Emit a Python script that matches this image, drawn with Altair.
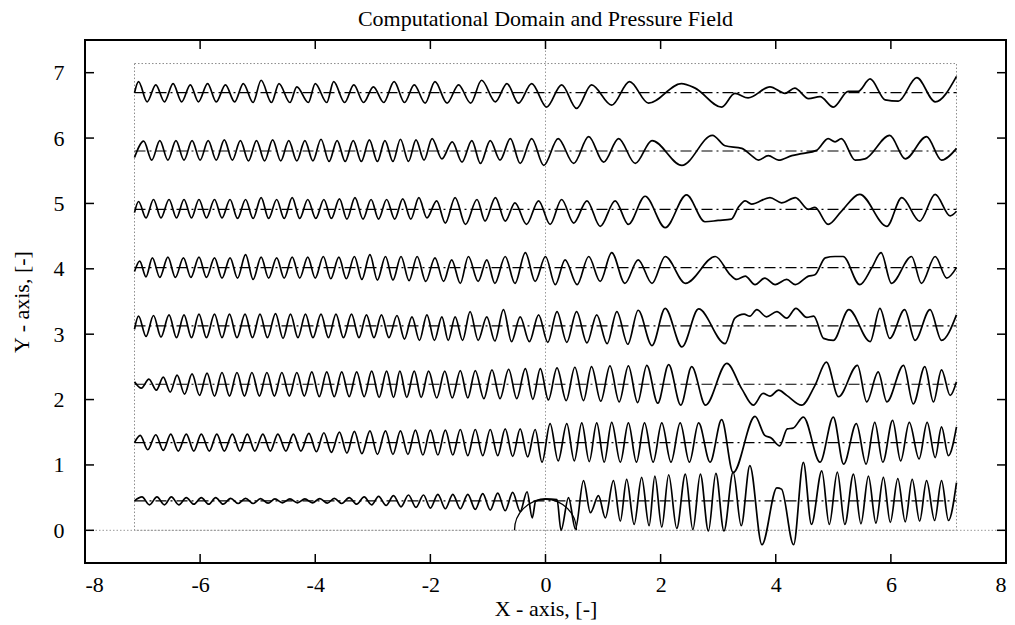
import altair as alt
import pandas as pd

# ---------------- data ----------------
TITLE = "Computational Domain and Pressure Field"
X_TITLE = "X - axis, [-]"
Y_TITLE = "Y - axis, [-]"
X_DOMAIN = [-8, 8]
Y_DOMAIN = [-0.5, 7.5]
XTICKS = [-8, -6, -4, -2, 0, 2, 4, 6, 8]
YTICKS = [0, 1, 2, 3, 4, 5, 6, 7]

# computational domain box and cylinder
DOMAIN_X = [-7.14, 7.14]
DOMAIN_Y = [0.0, 7.14]
CYL_CENTER = [0.0, 0.0]

# centre level of each pressure trace (dash-dot reference lines)
LEVELS = [0.45, 1.342, 2.234, 3.126, 4.018, 4.91, 5.802, 6.694]

# extrema of each trace: x position and offset from its level
X0 = [-7.14,
      -7.01, -6.88, -6.75, -6.62, -6.50, -6.37, -6.24, -6.11, -5.98, -5.85, -5.73, -5.60, -5.47, -5.34,
      -5.21, -5.08, -4.95, -4.82, -4.70, -4.57, -4.44, -4.31, -4.18, -4.05, -3.92, -3.79, -3.67, -3.54,
      -3.41, -3.28, -3.15, -3.02, -2.90, -2.77, -2.64, -2.51, -2.38, -2.25,
      -2.12, -2.00, -1.87, -1.74, -1.61, -1.48, -1.35, -1.22, -1.09, -0.96, -0.83, -0.70, -0.57, -0.44,
      -0.32, -0.23, -0.17, 0.00, 0.20, 0.27, 0.40, 0.52, 0.66, 0.78, 0.92, 1.04, 1.18, 1.30, 1.41, 1.54,
      1.67, 1.80, 1.90, 2.02, 2.14, 2.28, 2.43, 2.56, 2.69, 2.83, 2.96, 3.10, 3.26, 3.40, 3.55, 3.76,
      4.02, 4.10, 4.31, 4.48, 4.62, 4.80, 4.93, 5.07, 5.20, 5.35, 5.48, 5.61, 5.74, 5.87, 5.99, 6.12,
      6.25, 6.37, 6.50, 6.62, 6.76, 6.88, 7.00, 7.14]
D0 = [0.00,
      0.06, -0.06, 0.06, -0.06, 0.06, -0.06, 0.05, -0.05, 0.05, -0.05, 0.05, -0.05, 0.04, -0.04,
      0.04, -0.04, 0.035, -0.035, 0.03, -0.03, 0.03, -0.03, 0.03, -0.03, 0.035, -0.035, 0.04, -0.04,
      0.05, -0.05, 0.06, -0.06, 0.07, -0.07, 0.08, -0.09, 0.09, -0.10,
      0.09, -0.11, 0.10, -0.12, 0.10, -0.12, 0.10, -0.13, 0.11, -0.14, 0.12, -0.15, 0.13, -0.16,
      0.14, -0.26, 0.00, 0.03, 0.02, -0.45, 0.05, -0.43, 0.31, -0.18, 0.08, -0.26, 0.31, -0.31, 0.33, -0.36,
      0.36, -0.38, 0.38, -0.40, 0.40, -0.42, 0.41, -0.44, 0.41, -0.46, 0.42, -0.46, 0.44, -0.38, 0.54, -0.67,
      0.20, 0.18, -0.67, 0.59, -0.36, 0.46, -0.36, 0.44, -0.36, 0.41, -0.35, 0.38, -0.34, 0.36, -0.33, 0.34,
      -0.32, 0.33, -0.31, 0.31, -0.30, 0.31, -0.30, 0.28]

X1 = [-7.14,
      -7.04, -6.91, -6.77, -6.64, -6.51, -6.38, -6.24, -6.11, -5.98, -5.84, -5.71, -5.58, -5.44, -5.31,
      -5.18, -5.05, -4.91, -4.78, -4.65, -4.51, -4.38, -4.25, -4.11, -3.98, -3.85, -3.72, -3.58, -3.45,
      -3.32, -3.19, -3.05, -2.92, -2.78, -2.65, -2.52, -2.39, -2.26, -2.13,
      -2.00, -1.87, -1.74, -1.61, -1.48, -1.35, -1.22, -1.09, -0.96, -0.83, -0.70, -0.57, -0.44, -0.31,
      -0.18, -0.06, 0.08, 0.22, 0.37, 0.50, 0.63, 0.76, 0.89, 1.02, 1.15, 1.30, 1.44, 1.58, 1.72, 1.87,
      2.02, 2.18, 2.34, 2.50, 2.66, 2.86, 3.06, 3.26, 3.64, 3.81, 3.92, 4.07, 4.20, 4.30, 4.48, 4.77,
      5.00, 5.18, 5.40, 5.57, 5.72, 5.86, 6.03, 6.17, 6.32, 6.49, 6.63, 6.77, 6.88, 7.00, 7.14]
D1 = [0.00,
      0.11, -0.11, 0.12, -0.12, 0.13, -0.13, 0.13, -0.13, 0.13, -0.13, 0.13, -0.13, 0.13, -0.13,
      0.13, -0.13, 0.13, -0.13, 0.13, -0.13, 0.13, -0.13, 0.14, -0.14, 0.15, -0.15, 0.16, -0.16,
      0.17, -0.17, 0.18, -0.18, 0.18, -0.18, 0.18, -0.18, 0.19, -0.19,
      0.19, -0.19, 0.19, -0.19, 0.20, -0.20, 0.20, -0.20, 0.20, -0.20, 0.21, -0.21, 0.21, -0.22,
      0.20, -0.30, 0.29, -0.28, 0.29, -0.28, 0.30, -0.29, 0.30, -0.30, 0.31, -0.30, 0.30, -0.30, 0.30, -0.30,
      0.30, -0.30, 0.30, -0.30, 0.30, -0.30, 0.35, -0.46, 0.40, 0.11, 0.07, -0.05, 0.21, 0.22, 0.39, -0.30,
      0.39, -0.33, 0.29, -0.33, 0.31, -0.30, 0.34, -0.28, 0.31, -0.25, 0.31, -0.23, 0.24, -0.20, 0.24]

X2 = [-7.14, -7.02, -6.89, -6.76, -6.64, -6.52, -6.40, -6.27, -6.14, -6.01, -5.88, -5.75, -5.62, -5.49,
      -5.36, -5.23, -5.10, -4.97, -4.84, -4.71, -4.58, -4.45, -4.32, -4.19, -4.06, -3.93, -3.80, -3.67,
      -3.54, -3.41, -3.28, -3.15, -3.02, -2.89, -2.76, -2.64, -2.53, -2.41, -2.28, -2.16, -2.03, -1.89,
      -1.75, -1.62, -1.48, -1.35, -1.22, -1.07, -0.93, -0.79, -0.64, -0.50, -0.35, -0.22, -0.09, 0.05,
      0.20, 0.36, 0.51, 0.66, 0.80, 0.96, 1.12, 1.28, 1.44, 1.60, 1.76, 1.95, 2.14, 2.35, 2.54, 2.78,
      3.15, 3.41, 3.61, 3.78, 3.90, 4.05, 4.19, 4.45, 4.68, 4.88, 5.09, 5.42, 5.58, 5.78, 5.93, 6.22,
      6.39, 6.59, 6.74, 6.88, 7.03, 7.14]
D2 = [0.04, -0.06, 0.08, -0.09, 0.11, -0.12, 0.14, -0.15, 0.16, -0.17, 0.17, -0.18, 0.18, -0.18,
      0.18, -0.18, 0.18, -0.18, 0.18, -0.18, 0.18, -0.18, 0.18, -0.18, 0.19, -0.19, 0.19, -0.19,
      0.19, -0.19, 0.19, -0.19, 0.20, -0.20, 0.20, -0.20, 0.20, -0.20, 0.20, -0.20, 0.20, -0.21,
      0.20, -0.21, 0.21, -0.21, 0.21, -0.22, 0.22, -0.22, 0.23, -0.22, 0.24, -0.23, 0.24, -0.24,
      0.25, -0.25, 0.26, -0.25, 0.27, -0.26, 0.28, -0.27, 0.28, -0.28, 0.29, -0.29, 0.30, -0.32, 0.27, -0.32,
      0.32, -0.07, -0.32, -0.14, -0.18, -0.09, -0.17, -0.32, -0.02, 0.34, -0.19, 0.29, -0.27, 0.19, -0.27, 0.29,
      -0.30, 0.27, -0.27, 0.22, -0.17, 0.04]

X3 = [-7.14, -7.07, -6.94, -6.81, -6.68, -6.54, -6.41, -6.28, -6.15, -6.02, -5.89, -5.75, -5.62, -5.49,
      -5.36, -5.22, -5.09, -4.96, -4.83, -4.69, -4.56, -4.43, -4.30, -4.17, -4.04, -3.90, -3.77, -3.64,
      -3.51, -3.37, -3.24, -3.11, -2.98, -2.85, -2.72, -2.58, -2.45, -2.32, -2.19, -2.06, -1.93, -1.80,
      -1.69, -1.57, -1.44, -1.31, -1.17, -1.02, -0.88, -0.73, -0.59, -0.44, -0.28, -0.12, 0.04, 0.20,
      0.37, 0.54, 0.72, 0.89, 1.07, 1.24, 1.43, 1.61, 1.85, 2.08, 2.37, 2.66, 3.12, 3.29, 3.45, 3.55,
      3.67, 3.84, 4.02, 4.19, 4.35, 4.54, 4.66, 4.83, 5.00, 5.27, 5.64, 5.81, 5.98, 6.24, 6.42, 6.68,
      6.88, 7.14]
D3 = [-0.05, 0.15, -0.16, 0.16, -0.17, 0.17, -0.18, 0.17, -0.18, 0.18, -0.18, 0.18, -0.18, 0.18,
      -0.18, 0.18, -0.18, 0.18, -0.18, 0.19, -0.19, 0.18, -0.18, 0.18, -0.18, 0.18, -0.18, 0.18,
      -0.18, 0.18, -0.18, 0.17, -0.18, 0.17, -0.18, 0.16, -0.20, 0.14, -0.22, 0.17, -0.22, 0.14,
      -0.22, 0.14, -0.22, 0.22, -0.22, 0.14, -0.23, 0.25, -0.24, 0.14, -0.24, 0.17, -0.25, 0.22,
      -0.25, 0.22, -0.26, 0.17, -0.27, 0.22, -0.28, 0.24, -0.30, 0.27, -0.32, 0.26, -0.27, 0.12, 0.18, 0.15,
      0.25, 0.14, 0.22, 0.12, 0.27, 0.13, 0.15, -0.19, -0.22, 0.25, -0.24, 0.27, -0.19, 0.25, -0.22, 0.25,
      -0.22, 0.17]

X4 = [-7.14, -7.05, -6.94, -6.83, -6.70, -6.56, -6.43, -6.29, -6.16, -6.02, -5.89, -5.75, -5.62, -5.48,
      -5.35, -5.21, -5.08, -4.94, -4.81, -4.67, -4.54, -4.40, -4.27, -4.13, -4.00, -3.86, -3.73, -3.59,
      -3.46, -3.32, -3.19, -3.05, -2.92, -2.78, -2.65, -2.51, -2.37, -2.23, -2.08, -1.92, -1.77, -1.63,
      -1.48, -1.34, -1.17, -1.02, -0.88, -0.70, -0.53, -0.35, -0.18, 0.00, 0.17, 0.34, 0.55, 0.75,
      0.95, 1.15, 1.38, 1.61, 1.85, 2.08, 2.43, 2.95, 3.21, 3.32, 3.47, 3.64, 3.81, 3.99, 4.19, 4.34,
      4.57, 4.68, 4.86, 5.03, 5.17, 5.46, 5.67, 5.83, 6.01, 6.36, 6.53, 6.77, 6.97, 7.14]
D4 = [-0.06, 0.10, -0.14, 0.15, -0.15, 0.16, -0.15, 0.15, -0.15, 0.16, -0.15, 0.15, -0.16, 0.15,
      -0.16, 0.20, -0.18, 0.16, -0.16, 0.15, -0.16, 0.16, -0.16, 0.16, -0.16, 0.17, -0.17, 0.16,
      -0.17, 0.17, -0.18, 0.20, -0.19, 0.17, -0.19, 0.17, -0.20, 0.17, -0.21, 0.15, -0.21, 0.12,
      -0.24, 0.17, -0.21, 0.12, -0.24, 0.17, -0.24, 0.23, -0.21, 0.17, -0.26, 0.12, -0.26, 0.17,
      -0.21, 0.23, -0.24, 0.12, -0.24, 0.17, -0.24, 0.17, -0.11, -0.18, -0.13, -0.26, -0.16, -0.26, -0.18, -0.26,
      -0.13, -0.11, 0.15, 0.17, 0.17, -0.26, 0.00, 0.23, -0.24, 0.17, -0.24, 0.17, -0.16, 0.00]

X5 = [-7.14, -7.07, -6.94, -6.81, -6.68, -6.54, -6.41, -6.28, -6.15, -6.02, -5.89, -5.75, -5.62, -5.48,
      -5.35, -5.21, -5.08, -4.94, -4.81, -4.67, -4.54, -4.40, -4.27, -4.13, -3.99, -3.85, -3.72, -3.58,
      -3.45, -3.31, -3.17, -3.03, -2.90, -2.76, -2.62, -2.48, -2.34, -2.20, -2.06, -1.89, -1.74, -1.57,
      -1.39, -1.19, -1.05, -0.87, -0.70, -0.53, -0.33, -0.12, 0.08, 0.28, 0.49, 0.72, 0.95, 1.21,
      1.44, 1.73, 2.08, 2.45, 2.77, 3.00, 3.23, 3.35, 3.47, 3.58, 3.90, 4.10, 4.34, 4.57, 4.68, 4.91,
      5.14, 5.46, 5.93, 6.19, 6.50, 6.77, 7.03, 7.14]
D5 = [-0.05, 0.12, -0.13, 0.15, -0.13, 0.15, -0.13, 0.15, -0.13, 0.15, -0.13, 0.15, -0.13, 0.15,
      -0.14, 0.15, -0.14, 0.18, -0.14, 0.15, -0.14, 0.18, -0.14, 0.15, -0.14, 0.15, -0.14, 0.16,
      -0.15, 0.18, -0.15, 0.15, -0.15, 0.15, -0.15, 0.16, -0.15, 0.18, -0.13, 0.13, -0.21, 0.18,
      -0.23, 0.15, -0.18, 0.18, -0.18, 0.10, -0.23, 0.13, -0.23, 0.15, -0.21, 0.13, -0.26, 0.13,
      -0.23, 0.20, -0.28, 0.22, -0.19, -0.17, -0.15, 0.03, 0.13, 0.08, 0.18, 0.10, 0.18, 0.00, 0.03, -0.23,
      -0.03, 0.23, -0.26, 0.18, -0.18, 0.23, -0.10, -0.03]

X6 = [-7.14, -6.98, -6.84, -6.70, -6.56, -6.42, -6.28, -6.14, -6.00, -5.86, -5.72, -5.58, -5.44, -5.30,
      -5.16, -5.02, -4.88, -4.74, -4.60, -4.46, -4.32, -4.18, -4.04, -3.90, -3.76, -3.62, -3.48, -3.34,
      -3.20, -3.06, -2.92, -2.79, -2.65, -2.52, -2.38, -2.25, -2.11, -1.97, -1.80, -1.62, -1.45, -1.28,
      -1.13, -0.96, -0.79, -0.61, -0.44, -0.24, -0.03, 0.22, 0.49, 0.75, 1.01, 1.27, 1.56, 1.85,
      2.37, 2.90, 3.12, 3.41, 3.58, 3.70, 3.87, 4.05, 4.28, 4.45, 4.71, 4.91, 5.03, 5.14, 5.38, 5.55,
      5.98, 6.25, 6.62, 6.88, 7.14]
D6 = [-0.10, 0.15, -0.14, 0.16, -0.14, 0.16, -0.14, 0.16, -0.14, 0.16, -0.14, 0.17, -0.14, 0.16,
      -0.15, 0.16, -0.15, 0.17, -0.15, 0.16, -0.15, 0.16, -0.15, 0.18, -0.16, 0.16, -0.16, 0.16,
      -0.16, 0.17, -0.16, 0.16, -0.16, 0.18, -0.16, 0.17, -0.14, 0.19, -0.12, 0.14, -0.17, 0.16,
      -0.19, 0.16, -0.14, 0.19, -0.19, 0.19, -0.22, 0.19, -0.19, 0.22, -0.17, 0.19, -0.19, 0.16,
      -0.22, 0.24, 0.08, 0.04, -0.07, -0.14, -0.07, -0.14, -0.07, -0.04, 0.01, 0.19, 0.14, 0.19, -0.14, -0.12,
      0.24, -0.12, 0.22, -0.14, 0.04]

X7 = [-7.14, -7.07, -6.92, -6.77, -6.62, -6.47, -6.32, -6.17, -6.03, -5.87, -5.72, -5.56, -5.40, -5.25,
      -5.08, -4.94, -4.76, -4.63, -4.44, -4.32, -4.12, -4.00, -3.80, -3.68, -3.49, -3.33, -3.16, -2.99,
      -2.81, -2.63, -2.45, -2.28, -2.09, -1.92, -1.71, -1.51, -1.30, -1.11, -0.87, -0.67, -0.47, -0.24,
      0.02, 0.28, 0.54, 0.80, 1.15, 1.46, 1.79, 2.36, 2.60, 3.06, 3.29, 3.52, 3.90, 4.16, 4.33, 4.57,
      4.77, 5.00, 5.26, 5.43, 5.64, 5.90, 6.13, 6.45, 6.77, 7.14]
D7 = [0.00, 0.17, -0.14, 0.12, -0.14, 0.14, -0.14, 0.12, -0.14, 0.14, -0.14, 0.12, -0.14, 0.14,
      -0.15, 0.19, -0.15, 0.14, -0.15, 0.09, -0.15, 0.14, -0.15, 0.17, -0.15, 0.12, -0.15, 0.09,
      -0.15, 0.17, -0.15, 0.12, -0.16, 0.17, -0.16, 0.12, -0.16, 0.19, -0.14, 0.14, -0.16, 0.14,
      -0.22, 0.12, -0.24, 0.12, -0.19, 0.17, -0.16, 0.14, 0.07, -0.22, -0.01, -0.08, 0.09, -0.01, 0.07, -0.09,
      -0.06, -0.22, 0.02, 0.02, 0.21, -0.11, -0.13, 0.23, -0.14, 0.25]

TRACE_X = [X0, X1, X2, X3, X4, X5, X6, X7]
TRACE_D = [D0, D1, D2, D3, D4, D5, D6, D7]

# ---------------- tables ----------------
records = []
for k, (xs_, ds_) in enumerate(zip(TRACE_X, TRACE_D)):
    for xv, dv in zip(xs_, ds_):
        records.append({"row": k, "x": xv, "y": round(LEVELS[k] + dv, 4)})
waves_df = pd.DataFrame(records)

levels_df = pd.DataFrame({"y": LEVELS, "x1": [DOMAIN_X[0]] * len(LEVELS),
                          "x2": [DOMAIN_X[1]] * len(LEVELS)})
box_df = pd.DataFrame({"x1": [DOMAIN_X[0]], "x2": [DOMAIN_X[1]],
                       "y1": [DOMAIN_Y[0]], "y2": [DOMAIN_Y[1]]})
zero_df = pd.DataFrame({"v": [0.0]})
cyl_df = pd.DataFrame({"x": [CYL_CENTER[0]], "y": [CYL_CENTER[1]]})
xt_df = pd.DataFrame({"t": XTICKS})
yt_df = pd.DataFrame({"t": YTICKS})

# ---------------- chart ----------------
W, H = 921, 523
FONT = "Liberation Serif"
TICK = 9

xsc = alt.Scale(domain=X_DOMAIN, nice=False, zero=False)
ysc = alt.Scale(domain=Y_DOMAIN, nice=False, zero=False)
AX = dict(ticks=False, domain=False, grid=False, labelFont=FONT, titleFont=FONT,
          labelFontSize=22, titleFontSize=22, labelColor="black", titleColor="black",
          titleFontWeight="normal", labelExpr="'' + datum.value")
xaxis = alt.Axis(values=XTICKS, labelPadding=11, title=X_TITLE, titlePadding=3, **AX)
yaxis = alt.Axis(values=YTICKS, labelPadding=21, title=Y_TITLE, titlePadding=20, **AX)


def X(field):
    return alt.X(field, type="quantitative", scale=xsc, axis=xaxis)


def Y(field):
    return alt.Y(field, type="quantitative", scale=ysc, axis=yaxis)


box = alt.Chart(box_df).mark_rect(fillOpacity=0, stroke="#8c8c8c", strokeDash=[1.5, 2],
                                  strokeWidth=1).encode(x=X("x1"), x2="x2", y=Y("y1"), y2="y2")
vzero = alt.Chart(zero_df).mark_rule(stroke="#9a9a9a", strokeDash=[1.5, 2], strokeWidth=1).encode(
    x=X("v"), y=alt.value(0), y2=alt.value(H))
hzero = alt.Chart(zero_df).mark_rule(stroke="#9a9a9a", strokeDash=[1.5, 2], strokeWidth=1).encode(
    y=Y("v"), x=alt.value(0), x2=alt.value(W))
centre = alt.Chart(levels_df).mark_rule(stroke="black", strokeDash=[11, 4, 2, 4], strokeWidth=1.2).encode(
    x=X("x1"), x2="x2", y=Y("y"))
cyl = alt.Chart(cyl_df).mark_arc(radius=31, radius2=31, theta=4.712389, theta2=7.853982,
                                 stroke="black", strokeWidth=1.3, fillOpacity=0).encode(
    x=X("x"), y=Y("y"))
waves = alt.Chart(waves_df).mark_line(interpolate="monotone", color="black", strokeWidth=1.7).encode(
    x=X("x"), y=Y("y"), detail="row:N")

tb = alt.Chart(xt_df).mark_rule(color="black", strokeWidth=1.5).encode(
    x=X("t"), y=alt.value(H), y2=alt.value(H - TICK))
tt = alt.Chart(xt_df).mark_rule(color="black", strokeWidth=1.5).encode(
    x=X("t"), y=alt.value(0), y2=alt.value(TICK))
tl = alt.Chart(yt_df).mark_rule(color="black", strokeWidth=1.5).encode(
    y=Y("t"), x=alt.value(0), x2=alt.value(TICK))
tr = alt.Chart(yt_df).mark_rule(color="black", strokeWidth=1.5).encode(
    y=Y("t"), x=alt.value(W), x2=alt.value(W - TICK))

chart = alt.layer(box, vzero, hzero, centre, cyl, waves, tb, tt, tl, tr).properties(
    width=W, height=H,
    title=alt.TitleParams(TITLE, font=FONT, fontSize=22, fontWeight="normal", color="black",
                          anchor="middle", offset=8),
    padding={"left": 85, "top": 40, "right": 9, "bottom": 62},
    autosize=alt.AutoSizeParams(type="none"),
    background="white",
).configure_view(stroke="black", strokeWidth=2)

chart.save("out.html", embed_options={"renderer": "svg", "actions": False})
